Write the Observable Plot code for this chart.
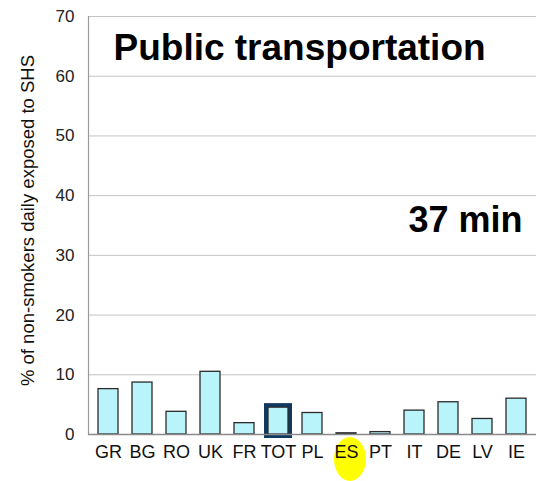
<!DOCTYPE html>
<html>
<head>
<meta charset="utf-8">
<script src="https://cdn.jsdelivr.net/npm/d3@7"></script>
<script src="https://cdn.jsdelivr.net/npm/@observablehq/plot@0.6"></script>
<style>
  html, body { margin: 0; padding: 0; background: #fff; }
  svg { display: block; font-family: "Liberation Sans", Arial, sans-serif; }
</style>
</head>
<body>
<div id="chart"></div>
<script>
const countries = ["GR", "BG", "RO", "UK", "FR", "TOT", "PL", "ES", "PT", "IT", "DE", "LV", "IE"];
const values = [7.6, 8.7, 3.8, 10.5, 1.9, 4.5, 3.6, 0.2, 0.4, 4.0, 5.4, 2.6, 6.0];
const yTicks = [0, 10, 20, 30, 40, 50, 60, 70];
const title = "Public transportation";
const durationLabel = "37 min";
const yLabel = "% of non-smokers daily exposed to SHS";
const highlightBar = "TOT";
const highlightLabel = "ES";

const data = countries.map((c, i) => ({country: c, value: values[i]}));
const tot = data.filter(d => d.country === highlightBar);

const plot = Plot.plot({
  width: 539,
  height: 481,
  marginLeft: 88,
  marginRight: 3,
  marginTop: 16,
  marginBottom: 47,
  style: {fontFamily: "Liberation Sans, Arial, sans-serif", background: "#fff"},
  x: {domain: countries, paddingInner: 0.42, paddingOuter: 0.21, label: null},
  y: {domain: [0, 70], label: null},
  marks: [
    Plot.gridY(yTicks, {stroke: "#c4c4c4", strokeOpacity: 1, strokeWidth: 1}),
    Plot.frame({anchor: "left", stroke: "#9a9a9a", strokeWidth: 1.2}),
    Plot.barY(tot, {x: "country", y: "value", fill: "none", stroke: "#0f3a60", strokeWidth: 8, ariaLabel: "glow"}),
    Plot.barY(data, {x: "country", y: "value", fill: "#b9f4fb", stroke: "#2b2b2b", strokeWidth: 1.3}),
    Plot.ruleY([0], {stroke: "#8a8a8a", strokeWidth: 1.5}),
    Plot.axisY(yTicks, {tickSize: 0, tickPadding: 14, fontSize: 17, label: null, color: "#222"}),
    Plot.axisX({tickSize: 0, tickPadding: 11, fontSize: 18, label: null, color: "#111"}),
    Plot.text([yLabel], {frameAnchor: "left", textAnchor: "middle", rotate: -90, dx: -60, dy: -5, fontSize: 18.5, fill: "#111"}),
    Plot.text([title], {frameAnchor: "top-left", textAnchor: "start", lineAnchor: "top", dx: 25, dy: 17, fontSize: 37, fontWeight: "bold", fill: "#000"}),
    Plot.text([durationLabel], {frameAnchor: "top-right", textAnchor: "end", lineAnchor: "top", dx: -14, dy: 190, fontSize: 36, fontWeight: "bold", fill: "#000"})
  ]
});

document.getElementById("chart").append(plot);

// soft glow for highlighted bar
const svg = d3.select(plot);
const defs = svg.insert("defs", ":first-child");
defs.append("filter").attr("id", "glowblur").attr("x", "-50%").attr("y", "-50%").attr("width", "200%").attr("height", "200%")
  .append("feGaussianBlur").attr("stdDeviation", 2.4);
svg.select('g[aria-label="glow"]').attr("filter", "url(#glowblur)");

// yellow ellipse behind highlighted x label
const xs = plot.scale("x");
const cx = xs.apply(highlightLabel) + xs.bandwidth / 2 + 4;
svg.insert("ellipse", 'g[aria-label="x-axis tick label"]')
  .attr("cx", cx).attr("cy", 459).attr("rx", 16).attr("ry", 22)
  .attr("fill", "#ffff00");
</script>
</body>
</html>
